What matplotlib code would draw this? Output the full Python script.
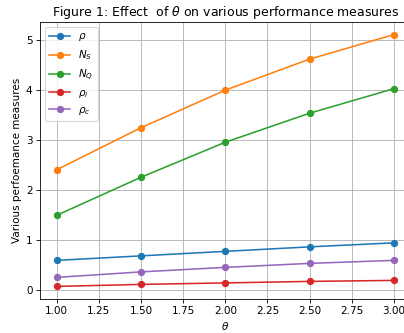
import matplotlib.pyplot as plt

theta = [1.0, 1.5, 2.0, 2.5, 3.0]
rho = [0.59, 0.68, 0.77, 0.86, 0.94]
N_S = [2.40, 3.24, 3.99, 4.61, 5.10]
N_Q = [1.49, 2.25, 2.95, 3.53, 4.02]
rho_i = [0.07, 0.11, 0.14, 0.17, 0.19]
rho_c = [0.25, 0.36, 0.45, 0.53, 0.59]

fig = plt.figure(figsize=(404 / 75, 333 / 75), dpi=75)
# axes runs a bit past the right edge, like the cropped original
ax = fig.add_axes([39.8 / 404, 34 / 333, 371 / 404, 277 / 333])

ax.plot(theta, rho, marker='o', label=r'$\rho$')
ax.plot(theta, N_S, marker='o', label=r'$N_S$')
ax.plot(theta, N_Q, marker='o', label=r'$N_Q$')
ax.plot(theta, rho_i, marker='o', label=r'$\rho_i$')
ax.plot(theta, rho_c, marker='o', label=r'$\rho_c$')

ax.set_title(r'Figure 1: Effect  of $\theta$ on various performance measures')
ax.set_xlabel(r'$\theta$')
ax.set_ylabel('Various perfoemance measures')
ax.grid(True)
ax.legend()

fig.savefig('out.png')
